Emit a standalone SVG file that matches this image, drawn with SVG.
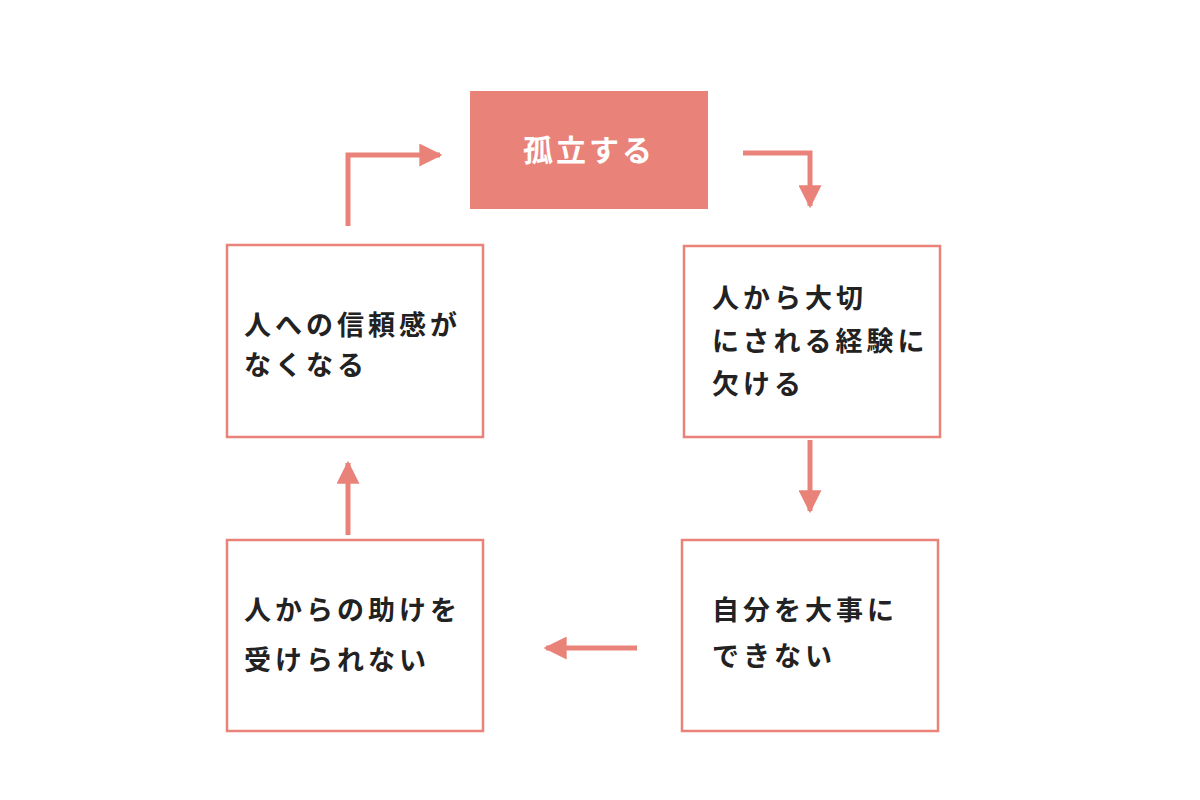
<svg xmlns="http://www.w3.org/2000/svg" width="1200" height="800" viewBox="0 0 1200 800">
<defs>
<marker id="ah" viewBox="0 0 10 10" refX="9" refY="5" markerWidth="4.6" markerHeight="4.6" orient="auto" markerUnits="strokeWidth"><path d="M0,0 L10,5 L0,10 z" fill="#E9837A"/></marker>
<style>
.box{fill:#fff;stroke:#E9837A;stroke-width:2.5}
.t{font-family:"Noto Sans CJK JP",sans-serif;font-size:27px;font-weight:bold;fill:#222;letter-spacing:4px}
.c{fill:none;stroke:#E9837A;stroke-width:5;marker-end:url(#ah)}
</style>
</defs>
<rect width="1200" height="800" fill="#fff"/>
<g id="n1"><rect x="470" y="91" width="238" height="118" fill="#E9837A"/><text x="589" y="161" text-anchor="middle" font-family="Noto Sans CJK JP,sans-serif" font-size="30" font-weight="bold" fill="#fff" letter-spacing="3">孤立する</text></g>
<g id="n2"><rect class="box" x="684" y="246" width="256" height="191"/><text class="t" x="712" y="308">人から大切</text><text class="t" x="712" y="351">にされる経験に</text><text class="t" x="712" y="394">欠ける</text></g>
<g id="n3"><rect class="box" x="682" y="540" width="256" height="191"/><text class="t" x="712" y="620">自分を大事に</text><text class="t" x="712" y="666">できない</text></g>
<g id="n4"><rect class="box" x="227" y="540" width="256" height="191"/><text class="t" x="244" y="620">人からの助けを</text><text class="t" x="244" y="670">受けられない</text></g>
<g id="n5"><rect class="box" x="227" y="245" width="256" height="192"/><text class="t" x="244" y="335">人への信頼感が</text><text class="t" x="244" y="375">なくなる</text></g>
<g id="connectors">
<path class="c" d="M348,226 V155 H440"/>
<path class="c" d="M743,153 H810 V206"/>
<path class="c" d="M810,440 V511"/>
<path class="c" d="M637,648 H546"/>
<path class="c" d="M348,535 V463"/>
</g>
</svg>
